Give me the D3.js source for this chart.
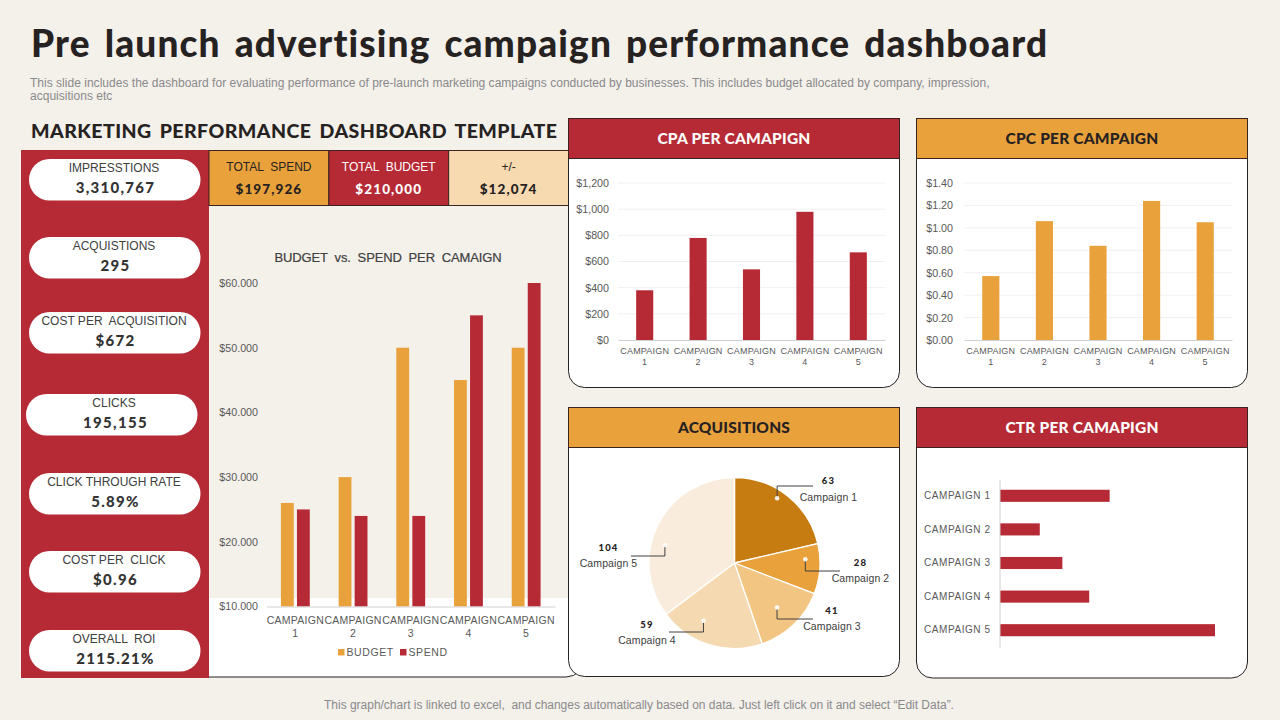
<!DOCTYPE html>
<html>
<head>
<meta charset="utf-8">
<script src="https://cdn.jsdelivr.net/npm/d3@7"></script>
<style>
html, body { margin: 0; padding: 0; background: #F4F0EA; }
svg { display: block; }
text { font-family: "Liberation Sans", Arial, sans-serif; }
.heavy { font-family: Lato, sans-serif; font-weight: 900; }
</style>
</head>
<body>
<svg id="chart" width="1280" height="720"></svg>
<script>
// data
const campaigns = ['CAMPAIGN 1', 'CAMPAIGN 2', 'CAMPAIGN 3', 'CAMPAIGN 4', 'CAMPAIGN 5'];
const budget = [26000, 30000, 50000, 45000, 50000];
const spend = [25000, 24000, 24000, 55000, 60000];
const budgetTicks = [10000, 20000, 30000, 40000, 50000, 60000];

const cpa = [380, 780, 540, 980, 670];
const cpaTicks = [0, 200, 400, 600, 800, 1000, 1200];
const cpc = [0.57, 1.06, 0.84, 1.24, 1.05];
const cpcTicks = [0, 0.2, 0.4, 0.6, 0.8, 1.0, 1.2, 1.4];
const ctr = [5.1, 1.85, 2.9, 4.15, 10.0];

const acquisitions = [63, 28, 41, 59, 104];
const pieNames = ['Campaign 1', 'Campaign 2', 'Campaign 3', 'Campaign 4', 'Campaign 5'];

const statLabels = ['IMPRESSTIONS', 'ACQUISTIONS', 'COST PER  ACQUISITION', 'CLICKS', 'CLICK THROUGH RATE', 'COST PER  CLICK', 'OVERALL  ROI'];
const statValues = ['3,310,767', '295', '$672', '195,155', '5.89%', '$0.96', '2115.21%'];
const kpiLabels = ['TOTAL  SPEND', 'TOTAL  BUDGET', '+/-'];
const kpiValues = ['$197,926', '$210,000', '$12,074'];

const RED = '#B62A35', ORANGE = '#E9A13B', INK = '#262222', GREY = '#595959';
const pieColors = ['#C77C11', '#E9A13B', '#F3C583', '#F5DAB1', '#F9ECDC'];

const svg = d3.select('#chart');

function label(parent, x, y, str, size, fill, anchor) {
    return parent.append('text')
        .attr('x', x).attr('y', y)
        .attr('font-size', size)
        .attr('fill', fill)
        .attr('text-anchor', anchor || 'middle')
        .attr('xml:space', 'preserve')
        .text(str);
}

// page headings
label(svg, 31, 57, 'Pre launch advertising campaign performance dashboard', 37, INK, 'start')
    .attr('class', 'heavy').attr('letter-spacing', 1.15).attr('word-spacing', 4);
label(svg, 30, 87, 'This slide includes the dashboard for evaluating performance of pre-launch marketing campaigns conducted by businesses. This includes budget allocated by company, impression,', 12, '#8a8a8a', 'start')
    .attr('letter-spacing', 0.02);
label(svg, 30, 100, 'acquisitions etc', 12, '#8a8a8a', 'start').attr('letter-spacing', 0.02);
label(svg, 31, 138, 'MARKETING PERFORMANCE DASHBOARD TEMPLATE', 19.5, INK, 'start')
    .attr('class', 'heavy').attr('letter-spacing', 0.45).attr('word-spacing', 3);
label(svg, 639, 709, 'This graph/chart is linked to excel,  and changes automatically based on data. Just left click on it and select \u201CEdit Data\u201D.', 12, '#8a8a8a')
    .attr('letter-spacing', -0.02);

// budget panel background, white strip runs behind the cards
svg.append('path')
    .attr('d', 'M209,598H590V665A12,12 0 0 1 578,677H209Z')
    .attr('fill', '#fff').attr('stroke', 'none');
svg.append('path')
    .attr('d', 'M209,677H566Q574,677 580,671')
    .attr('fill', 'none').attr('stroke', INK).attr('stroke-width', 1);

// left KPI column
svg.append('rect').attr('x', 21).attr('y', 150).attr('width', 188).attr('height', 528).attr('fill', RED);
const pillTops = [159, 237, 312, 394, 473, 551, 630];
statLabels.forEach((name, i) => {
    const left = i === 3 ? 26 : 29;
    const g = svg.append('g');
    g.append('rect').attr('x', left).attr('y', pillTops[i]).attr('width', 171.5).attr('height', 41.5)
        .attr('rx', 20.5).attr('fill', '#fff');
    label(g, 114, pillTops[i] + 13, name, 12, '#404040');
    label(g, 115.5, pillTops[i] + 33.5, statValues[i], 15, '#333')
        .attr('class', 'heavy').attr('font-weight', 800).attr('letter-spacing', 1.3);
});

// three totals on top
const kpiFill = [ORANGE, RED, '#F8DAB0'];
const kpiText = [INK, '#fff', INK];
const kpiX = d3.scaleBand().domain(d3.range(3)).range([209, 568.5]);
kpiLabels.forEach((name, i) => {
    svg.append('rect').attr('x', kpiX(i)).attr('y', 150.5).attr('width', kpiX.bandwidth()).attr('height', 55)
        .attr('fill', kpiFill[i]).attr('stroke', '#3a2320').attr('stroke-width', 1);
    label(svg, kpiX(i) + kpiX.bandwidth() / 2, 171, name, 12, kpiText[i]);
    label(svg, kpiX(i) + kpiX.bandwidth() / 2, 194, kpiValues[i], 13.5, kpiText[i])
        .attr('class', 'heavy').attr('font-weight', 800).attr('letter-spacing', 1.1);
});

// shared axis bits
function campaignAxis(g, xScale) {
    g.call(d3.axisBottom(xScale).tickSize(0).tickFormat(''));
    g.select('.domain').attr('stroke', '#d0d0d0');
    g.selectAll('.tick').each(function (d) {
        const parts = d.split(' ');
        const t = d3.select(this).select('text')
            .attr('y', 0).attr('dy', 0)
            .attr('font-family', '"Liberation Sans", Arial, sans-serif')
            .attr('font-size', 9).attr('fill', GREY).attr('letter-spacing', 0.2)
            .text(null);
        t.append('tspan').attr('x', 0).attr('y', 14).text(parts[0]);
        t.append('tspan').attr('x', 0).attr('y', 25).text(parts[1]);
    });
}

function valueAxis(g, yScale, ticks, fmt, size) {
    g.call(d3.axisLeft(yScale).tickValues(ticks).tickSize(0).tickPadding(0).tickFormat(fmt));
    g.select('.domain').remove();
    g.selectAll('text')
        .attr('font-family', '"Liberation Sans", Arial, sans-serif')
        .attr('font-size', size).attr('fill', GREY);
}

// budget vs spend
label(svg, 388, 262, 'BUDGET  vs.  SPEND  PER  CAMAIGN', 13, '#404040')
    .attr('stroke', '#404040').attr('stroke-width', 0.2).attr('letter-spacing', -0.15);

const budgetX = d3.scaleBand().domain(campaigns).range([266.5, 555]).paddingInner(0.5).paddingOuter(0.25);
const budgetInner = d3.scaleBand().domain(['budget', 'spend']).range([0, budgetX.bandwidth()]).paddingInner(0.2);
const budgetY = d3.scaleLinear().domain([10000, 60000]).range([606.5, 283]);

valueAxis(svg.append('g').attr('transform', 'translate(258,0)'), budgetY, budgetTicks,
    d => '$' + d / 1000 + '.000', 10.7);

[['budget', budget, ORANGE], ['spend', spend, RED]].forEach(([key, values, color]) => {
    svg.append('g').selectAll('rect').data(values).join('rect')
        .attr('x', (d, i) => budgetX(campaigns[i]) + budgetInner(key))
        .attr('y', d => budgetY(d))
        .attr('width', budgetInner.bandwidth())
        .attr('height', d => budgetY(10000) - budgetY(d))
        .attr('fill', color);
});
const budgetAxisG = svg.append('g').attr('transform', 'translate(0,606.5)');
campaignAxis(budgetAxisG, budgetX);
budgetAxisG.selectAll('text').attr('font-size', 10.5).attr('letter-spacing', 0.25);
budgetAxisG.selectAll('tspan').attr('y', (d, i) => i % 2 ? 30 : 17);

// legend under the budget chart
[['BUDGET', ORANGE, 338], ['SPEND', RED, 400]].forEach(([name, color, x]) => {
    svg.append('rect').attr('x', x).attr('y', 649).attr('width', 6.5).attr('height', 6.5).attr('fill', color);
    label(svg, x + 8.5, 656, name, 10.5, GREY, 'start').attr('letter-spacing', 0.6);
});

// card frame with coloured header
function card(x, y, w, h, headH, color, title, titleColor) {
    const g = svg.append('g');
    const r = 16;
    g.append('path')
        .attr('d', `M${x},${y}H${x + w}V${y + h - r}A${r},${r} 0 0 1 ${x + w - r},${y + h}H${x + r}A${r},${r} 0 0 1 ${x},${y + h - r}Z`)
        .attr('fill', '#fff').attr('stroke', INK).attr('stroke-width', 1);
    g.append('rect').attr('x', x).attr('y', y).attr('width', w).attr('height', headH)
        .attr('fill', color).attr('stroke', '#3a2320').attr('stroke-width', 1);
    label(g, x + w / 2, y + headH / 2 + 5.5, title, 15.5, titleColor)
        .attr('class', 'heavy').attr('letter-spacing', 0.2);
}

card(568.5, 118.5, 331, 269, 40, RED, 'CPA PER CAMAPIGN', '#fff');
card(916.5, 118.5, 331, 269, 40, ORANGE, 'CPC PER CAMPAIGN', INK);
card(568.5, 407.5, 331, 269, 40, ORANGE, 'ACQUISITIONS', INK);
card(916.5, 407.5, 331, 270.5, 40, RED, 'CTR PER CAMAPIGN', '#fff');

// single series column chart used by CPA and CPC
function columnChart(values, ticks, domainMax, fmt, color, left, right, labelX) {
    const x = d3.scaleBand().domain(campaigns).range([left, right]).paddingInner(0.68).paddingOuter(0.34);
    const y = d3.scaleLinear().domain([0, domainMax]).range([340, 183]);
    svg.append('g').selectAll('line').data(ticks.slice(1)).join('line')
        .attr('x1', left).attr('x2', right)
        .attr('y1', d => y(d)).attr('y2', d => y(d))
        .attr('stroke', '#f0f0f0').attr('stroke-width', 1);
    valueAxis(svg.append('g').attr('transform', `translate(${labelX},0)`), y, ticks, fmt, 10.7);
    svg.append('g').selectAll('rect').data(values).join('rect')
        .attr('x', (d, i) => x(campaigns[i]))
        .attr('y', d => y(d))
        .attr('width', x.bandwidth())
        .attr('height', d => y(0) - y(d))
        .attr('fill', color);
    campaignAxis(svg.append('g').attr('transform', 'translate(0,340)'), x);
}

columnChart(cpa, cpaTicks, 1200, d => '$' + d3.format(',')(d), RED, 618, 885, 609);
columnChart(cpc, cpcTicks, 1.4, d3.format('$.2f'), ORANGE, 964, 1232, 953);

// CTR horizontal bars
const ctrY = d3.scaleBand().domain(campaigns).range([479, 647]).paddingInner(0.64).paddingOuter(0.32);
const ctrX = d3.scaleLinear().domain([0, 10]).range([1000, 1215]);
svg.append('g').selectAll('rect').data(ctr).join('rect')
    .attr('x', ctrX(0))
    .attr('y', (d, i) => ctrY(campaigns[i]))
    .attr('width', d => ctrX(d) - ctrX(0))
    .attr('height', ctrY.bandwidth())
    .attr('fill', RED);
const ctrAxis = svg.append('g').attr('transform', 'translate(999.5,0)')
    .call(d3.axisLeft(ctrY).tickSize(0).tickPadding(9));
ctrAxis.select('.domain').attr('stroke', '#d0d0d0');
ctrAxis.selectAll('text')
    .attr('font-family', '"Liberation Sans", Arial, sans-serif')
    .attr('font-size', 10).attr('fill', GREY).attr('letter-spacing', 0.55);

// pie
const pieCx = 734.5, pieCy = 563, pieR = 85.5;
const arcs = d3.pie().sort(null)(acquisitions);
const arc = d3.arc().innerRadius(0).outerRadius(pieR);
const anchorArc = d3.arc().innerRadius(75).outerRadius(75);
const pieG = svg.append('g').attr('transform', `translate(${pieCx},${pieCy})`);
pieG.selectAll('path').data(arcs).join('path')
    .attr('d', arc)
    .attr('fill', (d, i) => pieColors[i])
    .attr('stroke', '#fff').attr('stroke-width', 1.3);

// callouts: nudge from the slice centroid, leader elbow, text centre and baselines
const callouts = [
    { nudge: [-4, -6], elbowY: -77, endX: 78.5, textX: 94, valueY: -79, nameY: -62 },
    { nudge: [-4, -9], elbowY: 8, endX: 105.5, textX: 126, valueY: 3, nameY: 19 },
    { nudge: [-9.5, -9.5], elbowY: 56, endX: 78.5, textX: 97.5, valueY: 51, nameY: 67 },
    { nudge: [-9, -14], elbowY: 69, endX: -65.5, textX: -87.5, valueY: 65, nameY: 81 },
    { nudge: [-2.5, 15.5], elbowY: -7, endX: -103.5, textX: -126, valueY: -12, nameY: 4 }
];
arcs.forEach((slice, i) => {
    const c = callouts[i];
    const p = anchorArc.centroid(slice);
    const px = p[0] + c.nudge[0], py = p[1] + c.nudge[1];
    pieG.append('path')
        .attr('d', `M${px},${py}V${c.elbowY}H${c.endX}`)
        .attr('fill', 'none').attr('stroke', '#404040').attr('stroke-width', 1);
    pieG.append('circle').attr('cx', px).attr('cy', py).attr('r', 2.3)
        .attr('fill', '#fff').attr('opacity', 0.9);
    label(pieG, c.textX, c.valueY, acquisitions[i], 9.5, INK)
        .attr('class', 'heavy').attr('letter-spacing', 1.2);
    label(pieG, c.textX, c.nameY, pieNames[i], 10.5, '#404040').attr('letter-spacing', 0.1);
});
</script>
</body>
</html>
